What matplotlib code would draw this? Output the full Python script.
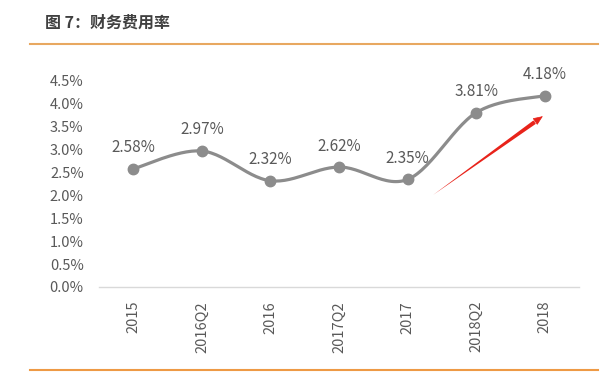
import numpy as np
import matplotlib.pyplot as plt
from matplotlib.lines import Line2D

plt.rcParams['font.family'] = ['Noto Sans CJK SC', 'DejaVu Sans']

# 数据
categories = ['2015', '2016Q2', '2016', '2017Q2', '2017', '2018Q2', '2018']
values = [2.58, 2.97, 2.32, 2.62, 2.35, 3.81, 4.18]
labels = ['2.58%', '2.97%', '2.32%', '2.62%', '2.35%', '3.81%', '4.18%']
yticks = [0.0, 0.5, 1.0, 1.5, 2.0, 2.5, 3.0, 3.5, 4.0, 4.5]

gray = '#8c8c8c'
text_gray = '#595959'


def smooth(xs, ys, n=30):
    # curva suave tipo Excel (Catmull-Rom con Bezier)
    px = np.concatenate([[xs[0]], xs, [xs[-1]]])
    py = np.concatenate([[ys[0]], ys, [ys[-1]]])
    outx, outy = [], []
    t = np.linspace(0, 1, n)
    for i in range(1, len(px) - 2):
        p0 = np.array([px[i], py[i]])
        p3 = np.array([px[i + 1], py[i + 1]])
        c1 = p0 + (np.array([px[i + 1], py[i + 1]]) - np.array([px[i - 1], py[i - 1]])) / 6
        c2 = p3 - (np.array([px[i + 2], py[i + 2]]) - np.array([px[i], py[i]])) / 6
        b = ((1 - t)[:, None] ** 3 * p0 + 3 * ((1 - t) ** 2 * t)[:, None] * c1
             + 3 * ((1 - t) * t ** 2)[:, None] * c2 + (t ** 3)[:, None] * p3)
        outx.extend(b[:, 0])
        outy.extend(b[:, 1])
    return np.array(outx), np.array(outy)


fig = plt.figure(figsize=(6.11, 3.91), dpi=100)
ax = fig.add_axes([0.162, 0.266, 0.786, 0.527])

x = np.arange(len(categories))
sx, sy = smooth(x.astype(float), np.array(values))
ax.plot(sx, sy, color=gray, lw=2.3, zorder=2)
ax.plot(x, values, 'o', color=gray, ms=7.5, zorder=3)

for xi, v, lab in zip(x, values, labels):
    ax.annotate(lab, (xi, v), xytext=(0, 9), textcoords='offset points',
                ha='center', va='bottom', fontsize=11, color=text_gray)

# flecha roja: cuerpo en cuña (fino en la cola) + punta
tail = (4.37, 2.01)
head = (5.97, 3.73)
ax.annotate('', xy=tail, xytext=(5.85, 3.60),
            arrowprops=dict(arrowstyle='wedge,tail_width=0.3,shrink_factor=0.5',
                            color='#e8231a', lw=0, shrinkA=0, shrinkB=0))
ax.annotate('', xy=head, xytext=(5.7, 3.45),
            arrowprops=dict(arrowstyle='-|>,head_length=0.6,head_width=0.25',
                            color='#e8231a', lw=0.5, shrinkA=0, shrinkB=0))

ax.set_xlim(-0.5, len(categories) - 0.5)
ax.set_ylim(0, 4.5)
ax.set_yticks(yticks)
ax.set_yticklabels([f'{t:.1f}%' for t in yticks])
ax.set_xticks(x)
ax.set_xticklabels(categories, rotation=90)
ax.tick_params(axis='both', length=0, colors=text_gray, labelsize=10.5)
ax.tick_params(axis='y', pad=11)
ax.tick_params(axis='x', pad=10)
for s in ['top', 'right', 'left']:
    ax.spines[s].set_visible(False)
ax.spines['bottom'].set_color('#d9d9d9')
ax.spines['bottom'].set_linewidth(1)
ax.spines['bottom'].set_zorder(1)

# título y líneas naranjas
fig.text(45 / 611, 1 - 23 / 391, '图 7：财务费用率', fontsize=11.5, fontweight='bold',
         color='#404040', va='center', ha='left')
fig.add_artist(Line2D([30 / 611, 598 / 611], [1 - 44 / 391] * 2, color='#e8a860', lw=1.5))
fig.add_artist(Line2D([30 / 611, 598 / 611], [1 - 370 / 391] * 2, color='#ee9a45', lw=1.5))

fig.savefig('out.png', dpi=100)
